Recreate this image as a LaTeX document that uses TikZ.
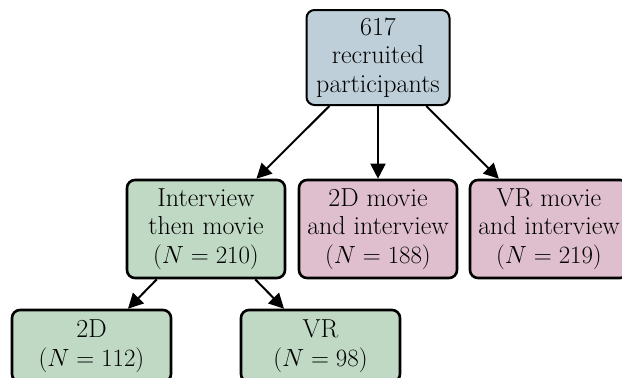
\documentclass[tikz,border=0pt]{standalone}
\usetikzlibrary{arrows.meta}
\definecolor{topc}{HTML}{BFCFD9}
\definecolor{greenc}{HTML}{BFD9C4}
\definecolor{pinkc}{HTML}{DFBFCD}
\tikzset{
  box/.style={draw=black, line width=2.6pt, rounded corners=8pt, align=center,
    font=\fontsize{26}{28.5}\selectfont, inner sep=0pt},
  topbox/.style={box, fill=topc, line width=2pt, minimum width=143pt, minimum height=95pt},
  midbox/.style={box, minimum width=158pt, minimum height=98pt},
  botbox/.style={box, fill=greenc, minimum width=159pt, minimum height=72pt},
  conn/.style={line width=2pt, -{Triangle[length=15pt,width=15pt]}}
}
\begin{document}
\begin{tikzpicture}[x=1pt,y=-1pt]
\useasboundingbox (0,0) rectangle (622,378);
\node[topbox] (top) at (378,57.5) {617\\recruited\\participants};
\node[midbox, fill=greenc] (int) at (206,229) {Interview\\then movie\\$(N = 210)$};
\node[midbox, fill=pinkc] (twod) at (378,229) {2D movie\\and interview\\$(N = 188)$};
\node[midbox, fill=pinkc] (vr) at (549,229) {VR movie\\and interview\\$(N = 219)$};
\node[botbox] (b2d) at (91.5,346) {2D\\$(N = 112)$};
\node[botbox] (bvr) at (320.5,346) {VR\\$(N = 98)$};
\draw[conn] (top) -- (int);
\draw[conn] (top) -- (twod);
\draw[conn] (top) -- (vr);
\draw[conn] (int) -- (b2d);
\draw[conn] (int) -- (bvr);
\end{tikzpicture}
\end{document}
